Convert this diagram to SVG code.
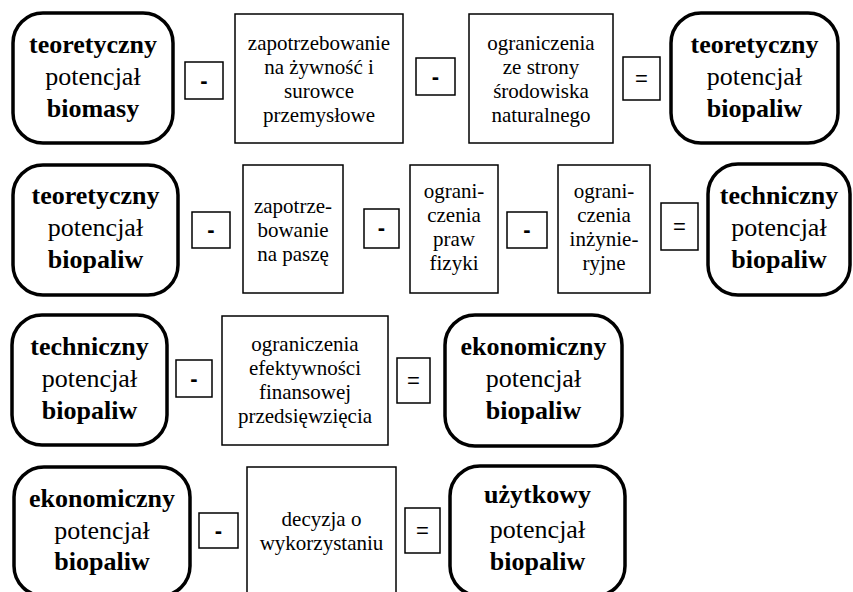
<svg xmlns="http://www.w3.org/2000/svg" width="853" height="592" viewBox="0 0 853 592" font-family="Liberation Serif">
<style>
.rb{fill:#fff;stroke:#000;stroke-width:3.5}
.bx{fill:#fff;stroke:#000;stroke-width:1.5}
</style>
<rect width="853" height="592" fill="#fff"/>
<g id="connectors"/>
<g id="r1-start"><rect class="rb" x="13" y="13" width="160" height="130" rx="30"/>
<text x="93" y="53" style="font-family:'Liberation Serif',serif;font-size:26px;font-weight:bold" text-anchor="middle">teoretyczny</text>
<text x="93" y="85" style="font-family:'Liberation Serif',serif;font-size:26px" text-anchor="middle">potencjał</text>
<text x="93" y="117" style="font-family:'Liberation Serif',serif;font-size:26px;font-weight:bold" text-anchor="middle">biomasy</text></g>
<g id="r1-op1"><rect class="bx" x="185" y="62" width="38" height="37"/><text x="204" y="88" style="font-family:'Liberation Sans',sans-serif;font-size:22px;font-weight:bold" text-anchor="middle">-</text></g>
<g id="r1-b1"><rect class="bx" x="235" y="14" width="168" height="129"/>
<text x="319" y="50" style="font-family:'Liberation Serif',serif;font-size:21px" text-anchor="middle">zapotrzebowanie</text>
<text x="319" y="74" style="font-family:'Liberation Serif',serif;font-size:21px" text-anchor="middle">na żywność i</text>
<text x="319" y="98" style="font-family:'Liberation Serif',serif;font-size:21px" text-anchor="middle">surowce</text>
<text x="319" y="122" style="font-family:'Liberation Serif',serif;font-size:21px" text-anchor="middle">przemysłowe</text></g>
<g id="r1-op2"><rect class="bx" x="416" y="58" width="39" height="37"/><text x="435.5" y="84" style="font-family:'Liberation Sans',sans-serif;font-size:22px;font-weight:bold" text-anchor="middle">-</text></g>
<g id="r1-b2"><rect class="bx" x="469" y="14" width="144" height="129"/>
<text x="541" y="50" style="font-family:'Liberation Serif',serif;font-size:21px" text-anchor="middle">ograniczenia</text>
<text x="541" y="74" style="font-family:'Liberation Serif',serif;font-size:21px" text-anchor="middle">ze strony</text>
<text x="541" y="98" style="font-family:'Liberation Serif',serif;font-size:21px" text-anchor="middle">środowiska</text>
<text x="541" y="122" style="font-family:'Liberation Serif',serif;font-size:21px" text-anchor="middle">naturalnego</text></g>
<g id="r1-eq"><rect class="bx" x="623" y="57" width="37" height="43"/><text x="641.5" y="86" style="font-family:'Liberation Sans',sans-serif;font-size:22px" text-anchor="middle">=</text></g>
<g id="r1-end"><rect class="rb" x="671" y="13" width="167" height="130" rx="30"/>
<text x="754.5" y="53" style="font-family:'Liberation Serif',serif;font-size:26px;font-weight:bold" text-anchor="middle">teoretyczny</text>
<text x="754.5" y="85" style="font-family:'Liberation Serif',serif;font-size:26px" text-anchor="middle">potencjał</text>
<text x="754.5" y="117" style="font-family:'Liberation Serif',serif;font-size:26px;font-weight:bold" text-anchor="middle">biopaliw</text></g>
<g id="r2-start"><rect class="rb" x="13" y="165" width="165" height="130" rx="30"/>
<text x="95.5" y="204" style="font-family:'Liberation Serif',serif;font-size:26px;font-weight:bold" text-anchor="middle">teoretyczny</text>
<text x="95.5" y="236" style="font-family:'Liberation Serif',serif;font-size:26px" text-anchor="middle">potencjał</text>
<text x="95.5" y="268" style="font-family:'Liberation Serif',serif;font-size:26px;font-weight:bold" text-anchor="middle">biopaliw</text></g>
<g id="r2-op1"><rect class="bx" x="192" y="212" width="38" height="36"/><text x="211" y="237" style="font-family:'Liberation Sans',sans-serif;font-size:22px;font-weight:bold" text-anchor="middle">-</text></g>
<g id="r2-b1"><rect class="bx" x="243" y="165" width="100" height="128"/>
<text x="293" y="213" style="font-family:'Liberation Serif',serif;font-size:21px" text-anchor="middle">zapotrze-</text>
<text x="293" y="237" style="font-family:'Liberation Serif',serif;font-size:21px" text-anchor="middle">bowanie</text>
<text x="293" y="261" style="font-family:'Liberation Serif',serif;font-size:21px" text-anchor="middle">na paszę</text></g>
<g id="r2-op2"><rect class="bx" x="364" y="209" width="35" height="39"/><text x="381.5" y="235" style="font-family:'Liberation Sans',sans-serif;font-size:22px;font-weight:bold" text-anchor="middle">-</text></g>
<g id="r2-b2"><rect class="bx" x="410" y="165" width="88" height="128"/>
<text x="454" y="198" style="font-family:'Liberation Serif',serif;font-size:21px" text-anchor="middle">ograni-</text>
<text x="454" y="222" style="font-family:'Liberation Serif',serif;font-size:21px" text-anchor="middle">czenia</text>
<text x="454" y="246" style="font-family:'Liberation Serif',serif;font-size:21px" text-anchor="middle">praw</text>
<text x="454" y="270" style="font-family:'Liberation Serif',serif;font-size:21px" text-anchor="middle">fizyki</text></g>
<g id="r2-op3"><rect class="bx" x="507" y="212" width="40" height="36"/><text x="527" y="237" style="font-family:'Liberation Sans',sans-serif;font-size:22px;font-weight:bold" text-anchor="middle">-</text></g>
<g id="r2-b3"><rect class="bx" x="558" y="165" width="92" height="128"/>
<text x="604" y="198" style="font-family:'Liberation Serif',serif;font-size:21px" text-anchor="middle">ograni-</text>
<text x="604" y="222" style="font-family:'Liberation Serif',serif;font-size:21px" text-anchor="middle">czenia</text>
<text x="604" y="246" style="font-family:'Liberation Serif',serif;font-size:21px" text-anchor="middle">inżynie-</text>
<text x="604" y="270" style="font-family:'Liberation Serif',serif;font-size:21px" text-anchor="middle">ryjne</text></g>
<g id="r2-eq"><rect class="bx" x="661" y="203" width="37" height="47"/><text x="679.5" y="234" style="font-family:'Liberation Sans',sans-serif;font-size:22px" text-anchor="middle">=</text></g>
<g id="r2-end"><rect class="rb" x="708" y="164" width="142" height="131" rx="30"/>
<text x="779" y="204" style="font-family:'Liberation Serif',serif;font-size:26px;font-weight:bold" text-anchor="middle">techniczny</text>
<text x="779" y="236" style="font-family:'Liberation Serif',serif;font-size:26px" text-anchor="middle">potencjał</text>
<text x="779" y="268" style="font-family:'Liberation Serif',serif;font-size:26px;font-weight:bold" text-anchor="middle">biopaliw</text></g>
<g id="r3-start"><rect class="rb" x="12" y="315" width="155" height="130" rx="30"/>
<text x="89.5" y="355" style="font-family:'Liberation Serif',serif;font-size:26px;font-weight:bold" text-anchor="middle">techniczny</text>
<text x="89.5" y="387" style="font-family:'Liberation Serif',serif;font-size:26px" text-anchor="middle">potencjał</text>
<text x="89.5" y="419" style="font-family:'Liberation Serif',serif;font-size:26px;font-weight:bold" text-anchor="middle">biopaliw</text></g>
<g id="r3-op1"><rect class="bx" x="176" y="360" width="36" height="37"/><text x="194" y="386" style="font-family:'Liberation Sans',sans-serif;font-size:22px;font-weight:bold" text-anchor="middle">-</text></g>
<g id="r3-b1"><rect class="bx" x="222" y="316" width="166" height="129"/>
<text x="305" y="351" style="font-family:'Liberation Serif',serif;font-size:21px" text-anchor="middle">ograniczenia</text>
<text x="305" y="375" style="font-family:'Liberation Serif',serif;font-size:21px" text-anchor="middle">efektywności</text>
<text x="305" y="399" style="font-family:'Liberation Serif',serif;font-size:21px" text-anchor="middle">finansowej</text>
<text x="305" y="423" style="font-family:'Liberation Serif',serif;font-size:21px" text-anchor="middle">przedsięwzięcia</text></g>
<g id="r3-eq"><rect class="bx" x="397" y="358" width="33" height="45"/><text x="413.5" y="388" style="font-family:'Liberation Sans',sans-serif;font-size:22px" text-anchor="middle">=</text></g>
<g id="r3-end"><rect class="rb" x="445" y="315" width="177" height="131" rx="30"/>
<text x="533.5" y="355" style="font-family:'Liberation Serif',serif;font-size:26px;font-weight:bold" text-anchor="middle">ekonomiczny</text>
<text x="533.5" y="387" style="font-family:'Liberation Serif',serif;font-size:26px" text-anchor="middle">potencjał</text>
<text x="533.5" y="419" style="font-family:'Liberation Serif',serif;font-size:26px;font-weight:bold" text-anchor="middle">biopaliw</text></g>
<g id="r4-start"><rect class="rb" x="14" y="467" width="176" height="129" rx="30"/>
<text x="102" y="507" style="font-family:'Liberation Serif',serif;font-size:26px;font-weight:bold" text-anchor="middle">ekonomiczny</text>
<text x="102" y="539" style="font-family:'Liberation Serif',serif;font-size:26px" text-anchor="middle">potencjał</text>
<text x="102" y="570" style="font-family:'Liberation Serif',serif;font-size:26px;font-weight:bold" text-anchor="middle">biopaliw</text></g>
<g id="r4-op1"><rect class="bx" x="199" y="513" width="39" height="35"/><text x="218.5" y="538" style="font-family:'Liberation Sans',sans-serif;font-size:22px;font-weight:bold" text-anchor="middle">-</text></g>
<g id="r4-b1"><rect class="bx" x="247" y="467" width="149" height="130"/>
<text x="321.5" y="526" style="font-family:'Liberation Serif',serif;font-size:21px" text-anchor="middle">decyzja o</text>
<text x="321.5" y="550" style="font-family:'Liberation Serif',serif;font-size:21px" text-anchor="middle">wykorzystaniu</text></g>
<g id="r4-eq"><rect class="bx" x="405" y="508" width="35" height="45"/><text x="422.5" y="538" style="font-family:'Liberation Sans',sans-serif;font-size:22px" text-anchor="middle">=</text></g>
<g id="r4-end"><rect class="rb" x="450" y="466" width="175" height="130" rx="30"/>
<text x="537.5" y="503" style="font-family:'Liberation Serif',serif;font-size:26px;font-weight:bold" text-anchor="middle">użytkowy</text>
<text x="537.5" y="538" style="font-family:'Liberation Serif',serif;font-size:26px" text-anchor="middle">potencjał</text>
<text x="537.5" y="570" style="font-family:'Liberation Serif',serif;font-size:26px;font-weight:bold" text-anchor="middle">biopaliw</text></g>
</svg>
